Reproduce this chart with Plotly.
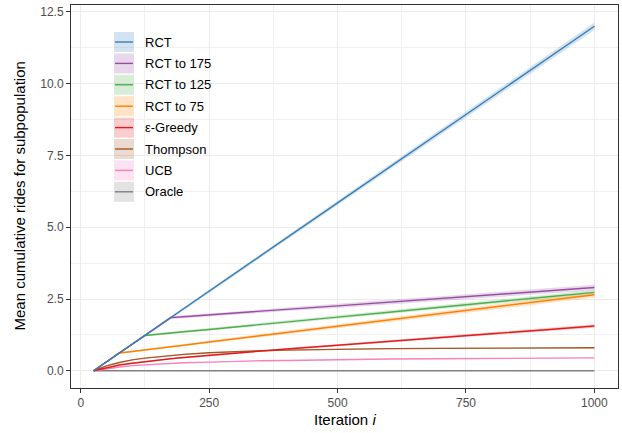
import plotly.graph_objects as go

# ---------------- data ----------------
iterations = [25, 50, 75, 100, 125, 150, 175, 200, 250, 300, 350, 400, 500, 600, 700, 800, 900, 1000]

series_names = ["RCT", "RCT to 175", "RCT to 125", "RCT to 75", "ε-Greedy", "Thompson", "UCB", "Oracle"]
series_colors = ["#377EB8", "#984EA3", "#4DAF4A", "#FF7F00", "#E41A1C", "#A65628", "#F781BF", "#808080"]

rct =        [0.00, 0.31, 0.62, 0.92, 1.23, 1.54, 1.85, 2.15, 2.77, 3.38, 4.00, 4.62, 5.85, 7.08, 8.31, 9.54, 10.77, 12.00]
rct_to_175 = [0.00, 0.31, 0.62, 0.92, 1.23, 1.54, 1.85, 1.88, 1.95, 2.01, 2.07, 2.14, 2.26, 2.39, 2.52, 2.65, 2.77, 2.90]
rct_to_125 = [0.00, 0.31, 0.62, 0.92, 1.23, 1.27, 1.32, 1.36, 1.44, 1.53, 1.62, 1.70, 1.87, 2.04, 2.22, 2.39, 2.56, 2.73]
rct_to_75 =  [0.00, 0.31, 0.62, 0.67, 0.73, 0.78, 0.84, 0.89, 1.00, 1.11, 1.22, 1.33, 1.55, 1.77, 1.99, 2.21, 2.43, 2.65]
eps_greedy = [0.00, 0.11, 0.20, 0.26, 0.32, 0.37, 0.42, 0.46, 0.54, 0.62, 0.69, 0.76, 0.89, 1.03, 1.16, 1.29, 1.42, 1.56]
thompson =   [0.00, 0.17, 0.29, 0.38, 0.44, 0.49, 0.53, 0.57, 0.63, 0.67, 0.70, 0.72, 0.75, 0.77, 0.78, 0.79, 0.80, 0.80]
ucb =        [0.00, 0.07, 0.13, 0.18, 0.21, 0.24, 0.26, 0.28, 0.30, 0.33, 0.35, 0.36, 0.39, 0.41, 0.42, 0.43, 0.44, 0.45]
oracle =     [0.00, 0.00, 0.00, 0.00, 0.00, 0.00, 0.00, 0.00, 0.00, 0.00, 0.00, 0.00, 0.00, 0.00, 0.00, 0.00, 0.00, 0.00]

# confidence half-widths
rct_ci =        [0.00, 0.02, 0.03, 0.03, 0.04, 0.04, 0.05, 0.05, 0.05, 0.06, 0.06, 0.07, 0.08, 0.09, 0.10, 0.11, 0.12, 0.13]
rct_to_175_ci = [0.00, 0.02, 0.03, 0.03, 0.04, 0.04, 0.05, 0.05, 0.05, 0.06, 0.06, 0.06, 0.07, 0.08, 0.08, 0.09, 0.10, 0.10]
rct_to_125_ci = [0.00, 0.02, 0.03, 0.03, 0.04, 0.04, 0.04, 0.04, 0.05, 0.05, 0.05, 0.05, 0.06, 0.06, 0.07, 0.07, 0.08, 0.08]
rct_to_75_ci =  [0.00, 0.02, 0.03, 0.03, 0.03, 0.04, 0.04, 0.04, 0.05, 0.05, 0.06, 0.06, 0.07, 0.08, 0.08, 0.09, 0.10, 0.10]
eps_greedy_ci = [0.00, 0.01, 0.01, 0.02, 0.02, 0.02, 0.02, 0.03, 0.03, 0.03, 0.03, 0.04, 0.04, 0.04, 0.05, 0.05, 0.06, 0.06]
thompson_ci =   [0.00, 0.01, 0.01, 0.01, 0.01, 0.02, 0.02, 0.02, 0.02, 0.02, 0.02, 0.02, 0.02, 0.02, 0.02, 0.02, 0.02, 0.02]
ucb_ci =        [0.00, 0.01, 0.01, 0.01, 0.01, 0.01, 0.01, 0.01, 0.01, 0.01, 0.01, 0.01, 0.01, 0.01, 0.01, 0.01, 0.01, 0.01]
oracle_ci =     [0.00, 0.00, 0.00, 0.00, 0.00, 0.00, 0.00, 0.00, 0.00, 0.00, 0.00, 0.00, 0.00, 0.00, 0.00, 0.00, 0.00, 0.00]

x_ticks = [0, 250, 500, 750, 1000]
y_ticks = [0.0, 2.5, 5.0, 7.5, 10.0, 12.5]

x_title = "Iteration <i>i</i>"
y_title = "Mean cumulative rides for subpopulation"

values = [rct, rct_to_175, rct_to_125, rct_to_75, eps_greedy, thompson, ucb, oracle]
cis = [rct_ci, rct_to_175_ci, rct_to_125_ci, rct_to_75_ci, eps_greedy_ci, thompson_ci, ucb_ci, oracle_ci]


def rgba(hex_color, a):
    h = hex_color.lstrip("#")
    r, g, b = int(h[0:2], 16), int(h[2:4], 16), int(h[4:6], 16)
    return f"rgba({r},{g},{b},{a})"


FONT = "Liberation Sans, Arial, Helvetica, sans-serif"
W, H = 622, 433
ML, MR, MT, MB = 71, 4, 5, 45
PW, PH = W - ML - MR, H - MT - MB

fig = go.Figure()

# ribbons
for name, col, ys, ci in zip(series_names, series_colors, values, cis):
    upper = [y + c for y, c in zip(ys, ci)]
    lower = [y - c for y, c in zip(ys, ci)]
    fig.add_trace(go.Scatter(x=iterations, y=upper, mode="lines", line=dict(width=0),
                             showlegend=False, hoverinfo="skip"))
    fig.add_trace(go.Scatter(x=iterations, y=lower, mode="lines", line=dict(width=0),
                             fill="tonexty", fillcolor=rgba(col, 0.22),
                             showlegend=False, hoverinfo="skip"))

# lines
for name, col, ys in reversed(list(zip(series_names, series_colors, values))):
    fig.add_trace(go.Scatter(x=iterations, y=ys, mode="lines", name=name,
                             line=dict(color=col, width=1.4), showlegend=False))


def px_x(p):
    return (p - ML) / PW


def px_y(p):
    return (H - MB - p) / PH


# manual legend
shapes = []
annotations = []
key_left, key_right = 114, 134
first_top, step, key_h = 32, 21.4, 20
for i, (name, col) in enumerate(zip(series_names, series_colors)):
    top = first_top + i * step
    shapes.append(dict(type="rect", xref="paper", yref="paper",
                       x0=px_x(key_left), x1=px_x(key_right),
                       y0=px_y(top + key_h), y1=px_y(top),
                       fillcolor=rgba(col, 0.22), line=dict(width=0)))
    shapes.append(dict(type="line", xref="paper", yref="paper",
                       x0=px_x(key_left + 1), x1=px_x(key_right - 1),
                       y0=px_y(top + key_h / 2), y1=px_y(top + key_h / 2),
                       line=dict(color=col, width=1.4)))
    annotations.append(dict(xref="paper", yref="paper", x=px_x(143), y=px_y(top + key_h / 2),
                            text=name, showarrow=False, xanchor="left", yanchor="middle",
                            font=dict(family=FONT, size=13, color="#000000")))

# axis titles as annotations
annotations.append(dict(xref="paper", yref="paper", x=0.5, y=px_y(419), text=x_title,
                        showarrow=False, xanchor="center", yanchor="middle",
                        font=dict(family=FONT, size=15, color="#000000")))
annotations.append(dict(xref="paper", yref="paper", x=px_x(19), y=0.5, text=y_title,
                        showarrow=False, xanchor="center", yanchor="middle", textangle=-90,
                        font=dict(family=FONT, size=15, color="#000000")))

fig.update_layout(
    width=W, height=H,
    margin=dict(l=ML, r=MR, t=MT, b=MB),
    paper_bgcolor="white", plot_bgcolor="white",
    showlegend=False,
    shapes=shapes, annotations=annotations,
    font=dict(family=FONT),
)

fig.update_xaxes(
    range=[-19, 1046], tickvals=x_ticks, ticktext=[str(v) for v in x_ticks],
    showgrid=True, gridcolor="#ebebeb", gridwidth=1.1,
    minor=dict(tickvals=[125, 375, 625, 875], showgrid=True, gridcolor="#f0f0f0", gridwidth=0.8),
    ticks="outside", ticklen=4, tickcolor="#333333", tickwidth=1,
    tickfont=dict(family=FONT, size=12, color="#4d4d4d"),
    showline=True, linecolor="#333333", linewidth=1, mirror=True, zeroline=False,
    automargin=False,
)
fig.update_yaxes(
    range=[-0.6, 12.74], tickvals=y_ticks, ticktext=[f"{v:.1f}" for v in y_ticks],
    showgrid=True, gridcolor="#ebebeb", gridwidth=1.1,
    minor=dict(tickvals=[1.25, 3.75, 6.25, 8.75, 11.25], showgrid=True, gridcolor="#f0f0f0", gridwidth=0.8),
    ticks="outside", ticklen=4, tickcolor="#333333", tickwidth=1,
    tickfont=dict(family=FONT, size=12, color="#4d4d4d"),
    showline=True, linecolor="#333333", linewidth=1, mirror=True, zeroline=False,
    automargin=False,
)

fig.write_html("out.html", config={"displayModeBar": False},
               post_script="document.body.style.margin='0px';")
